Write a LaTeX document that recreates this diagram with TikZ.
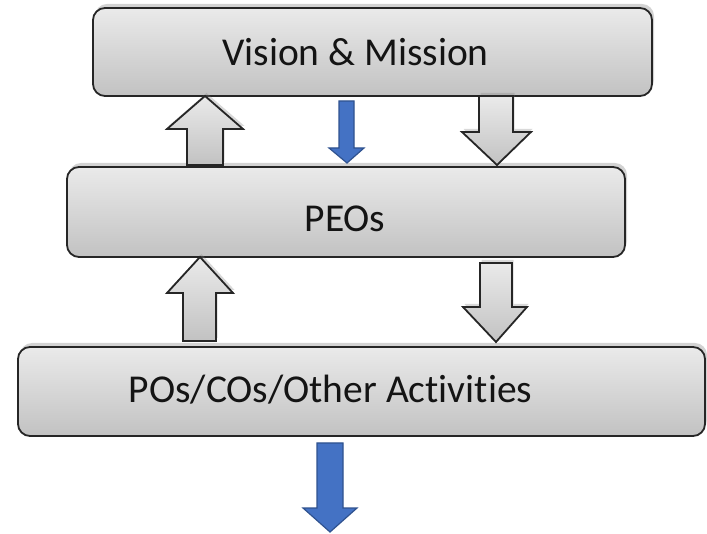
\documentclass[tikz,border=0pt]{standalone}
\usepackage{fontspec}
\setmainfont[Ligatures=NoCommon]{Carlito}
\usetikzlibrary{shadows}
\definecolor{boxtop}{HTML}{EAEAEA}
\definecolor{boxbot}{HTML}{C2C2C2}
\definecolor{blueA}{HTML}{4472C4}
\definecolor{blueB}{HTML}{2F528F}
\definecolor{txt}{HTML}{141414}
\tikzset{
  box/.style={draw=black!85, line width=1.8pt, rounded corners=12pt,
    top color=boxtop, bottom color=boxbot,
    drop shadow={opacity=0.35, shadow xshift=2pt, shadow yshift=4pt}},
  garrow/.style={draw=black!85, line width=1.8pt, line join=miter,
    top color=boxtop, bottom color=boxbot,
    drop shadow={opacity=0.3, shadow xshift=1.5pt, shadow yshift=3pt}},
  barrow/.style={draw=blueB, line width=1.2pt, fill=blueA},
  lbl/.style={inner sep=0pt, text=txt, font=\fontsize{39.5}{47}\selectfont}
}
\begin{document}
\begin{tikzpicture}[x=1pt,y=-1pt]
\useasboundingbox (0,0) rectangle (707,534);
% boxes
\path[box] (93,8) rectangle (652,96);
\path[box] (67,167) rectangle (625,257);
\path[box] (18,347) rectangle (705,436);
\node[lbl] (vm) at (355.5,52) {Vision \& Mission};
\node[lbl] (peo) at (345,219) {PEOs};
\node[lbl] (pos) at (330.5,390) {POs/COs/Other Activities};
% arrows between top and middle
\path[garrow] (205,96) -- (243,129) -- (223,129) -- (223,165) -- (187,165) -- (187,129) -- (167,129) -- cycle;
\path[barrow] (339,101) -- (354,101) -- (354,148) -- (364,148) -- (347,163) -- (329,148) -- (339,148) -- cycle;
\path[garrow] (479,96) -- (513,96) -- (513,132) -- (531,132) -- (497,165) -- (462,132) -- (479,132) -- cycle;
% arrows between middle and bottom
\path[garrow] (200,257) -- (233,293) -- (216,293) -- (216,341) -- (183,341) -- (183,293) -- (167,293) -- cycle;
\path[garrow] (480,263) -- (512,263) -- (512,307) -- (527,307) -- (496,342) -- (463,307) -- (480,307) -- cycle;
% bottom blue arrow
\path[barrow] (317,443) -- (343,443) -- (343,508) -- (357,508) -- (330,532) -- (303,508) -- (317,508) -- cycle;
\end{tikzpicture}
\end{document}
